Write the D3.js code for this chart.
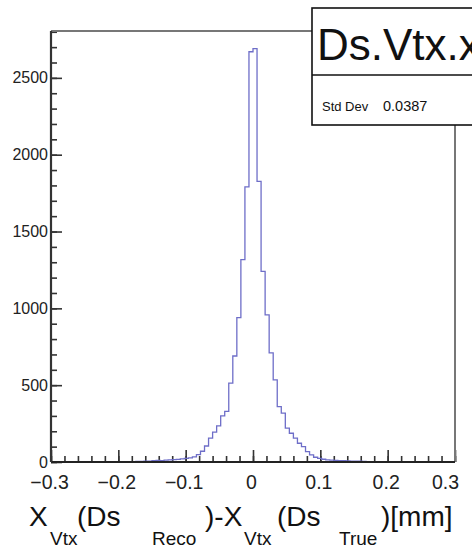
<!DOCTYPE html>
<html>
<head>
<meta charset="utf-8">
<script src="https://cdn.jsdelivr.net/npm/d3@7/dist/d3.min.js"></script>
<style>
  body { margin: 0; background: #fff; }
  text { font-family: "Liberation Sans", Arial, Helvetica, sans-serif; }
</style>
</head>
<body>
<script>
// bin contents, 100 bins of 0.006 from -0.3 to 0.3
var binLow = -0.3, binHigh = 0.3;
var counts = [
  0, 1, 0, 0, 1, 0, 1, 0, 0, 1,
  1, 0, 1, 1, 2, 1, 1, 2, 2, 3,
  3, 4, 4, 5, 6, 8, 10, 9, 12, 14,
  15, 17, 20, 24, 27, 34, 48, 70, 104, 156,
  195, 235, 300, 330, 513, 690, 939, 1317, 1790, 2670,
  2690, 1826, 1241, 958, 710, 535, 360, 318, 220, 187,
  155, 122, 100, 67, 46, 31, 24, 18, 14, 12,
  10, 9, 8, 7, 6, 5, 5, 4, 3, 3,
  3, 2, 2, 2, 1, 2, 1, 1, 1, 0,
  1, 0, 1, 0, 0, 1, 0, 0, 0, 1
];
var xTickValues = [-0.3, -0.2, -0.1, 0, 0.1, 0.2, 0.3];
var xTickLabels = ['\u22120.3', '\u22120.2', '\u22120.1', '0', '0.1', '0.2', '0.3'];
var yTickValues = [0, 500, 1000, 1500, 2000, 2500];
var yTickLabels = ['0', '500', '1000', '1500', '2000', '2500'];
var statsNames = ['Std Dev'];
var statsValues = ['0.0387'];
var histName = 'Ds.Vtx.x';
// axis title pieces: text, subscript?, left edge
var titleParts = [
  ['X', false, 29], ['Vtx', true, 50], ['(Ds', false, 77], ['Reco', true, 152],
  [')-X', false, 205], ['Vtx', true, 244], ['(Ds', false, 277], ['True', true, 339],
  [')[mm]', false, 381]
];

var W = 472, H = 549;
var margin = { top: 31, right: 17, bottom: 87, left: 51 };
var width = W - margin.left - margin.right;
var height = H - margin.top - margin.bottom;

var svg = d3.select('body').append('svg')
  .attr('width', W)
  .attr('height', H);

var g = svg.append('g')
  .attr('transform', 'translate(' + margin.left + ',' + margin.top + ')');

var x = d3.scaleLinear().domain([binLow, binHigh]).range([0, width]);
var y = d3.scaleLinear().domain([0, 2805]).range([height, 0]);

// minor ticks
var xMinor = d3.range(-0.3, 0.3001, 0.02).map(function (d) { return +d.toFixed(2); });
var yMinor = d3.range(0, 2801, 100);

g.append('g')
  .attr('class', 'x minor')
  .attr('transform', 'translate(0,' + height + ')')
  .call(d3.axisBottom(x).tickValues(xMinor).tickSize(-6).tickFormat(''));

g.append('g')
  .attr('class', 'y minor')
  .call(d3.axisLeft(y).tickValues(yMinor).tickSize(-6).tickFormat(''));

// major ticks
g.append('g')
  .attr('class', 'x axis')
  .attr('transform', 'translate(0,' + height + ')')
  .call(d3.axisBottom(x).tickValues(xTickValues).tickSize(-12).tickPadding(13)
    .tickFormat(function (d, i) { return xTickLabels[i]; }));

g.append('g')
  .attr('class', 'y axis')
  .call(d3.axisLeft(y).tickValues(yTickValues).tickSize(-11).tickPadding(3)
    .tickFormat(function (d, i) { return yTickLabels[i]; }));

g.selectAll('.domain').remove();
g.selectAll('.tick line').attr('stroke', '#333').attr('stroke-width', 1.6);
g.selectAll('.x.axis text').style('font-size', '19.5px').attr('fill', '#222')
  .attr('dx', function (d, i) { return i === xTickValues.length - 1 ? -10 : -2; });
g.selectAll('.y.axis text').style('font-size', '16px').attr('fill', '#222');

// histogram outline
var step = (binHigh - binLow) / counts.length;
var pts = [];
counts.forEach(function (c, i) {
  pts.push([x(binLow + i * step), y(c)]);
  pts.push([x(binLow + (i + 1) * step), y(c)]);
});
g.append('path')
  .attr('d', d3.line()(pts))
  .attr('fill', 'none')
  .attr('stroke', '#6e6ec8')
  .attr('stroke-width', 1.3);

// frame
g.append('line').attr('x1', 0).attr('x2', width).attr('y1', 0).attr('y2', 0)
  .attr('stroke', '#777').attr('stroke-width', 2.2);
g.append('line').attr('x1', width).attr('x2', width).attr('y1', 0).attr('y2', height)
  .attr('stroke', '#777').attr('stroke-width', 2);
g.append('line').attr('x1', 0).attr('x2', width).attr('y1', height).attr('y2', height)
  .attr('stroke', '#222').attr('stroke-width', 2);
g.append('line').attr('x1', 0).attr('x2', 0).attr('y1', 0).attr('y2', height)
  .attr('stroke', '#333').attr('stroke-width', 2.2);

// stats box (runs off the right edge, as in the reference)
var box = svg.append('g').attr('transform', 'translate(312,8)');
box.append('rect')
  .attr('x', 0).attr('y', 0).attr('width', 200).attr('height', 117)
  .attr('fill', '#fff').attr('stroke', '#111').attr('stroke-width', 1.6);
box.append('line').attr('x1', 0).attr('x2', 200).attr('y1', 67).attr('y2', 67)
  .attr('stroke', '#111').attr('stroke-width', 1.4);
box.append('text').attr('x', 5).attr('y', 52)
  .style('font-size', '44px').attr('fill', '#111').text(histName);
statsNames.forEach(function (n, i) {
  box.append('text').attr('x', 10).attr('y', 103 + i * 20)
    .style('font-size', '13px').attr('fill', '#111').text(n);
  box.append('text').attr('x', 71).attr('y', 103 + i * 20)
    .style('font-size', '14.5px').attr('fill', '#111').text(statsValues[i]);
});

// axis title
var t = svg.append('text').attr('y', 526).attr('fill', '#111');
titleParts.forEach(function (p) {
  t.append('tspan')
    .attr('x', p[2])
    .attr('y', p[1] ? 545 : 526)
    .style('font-size', p[1] ? '19px' : '28px')
    .text(p[0]);
});
</script>
</body>
</html>
